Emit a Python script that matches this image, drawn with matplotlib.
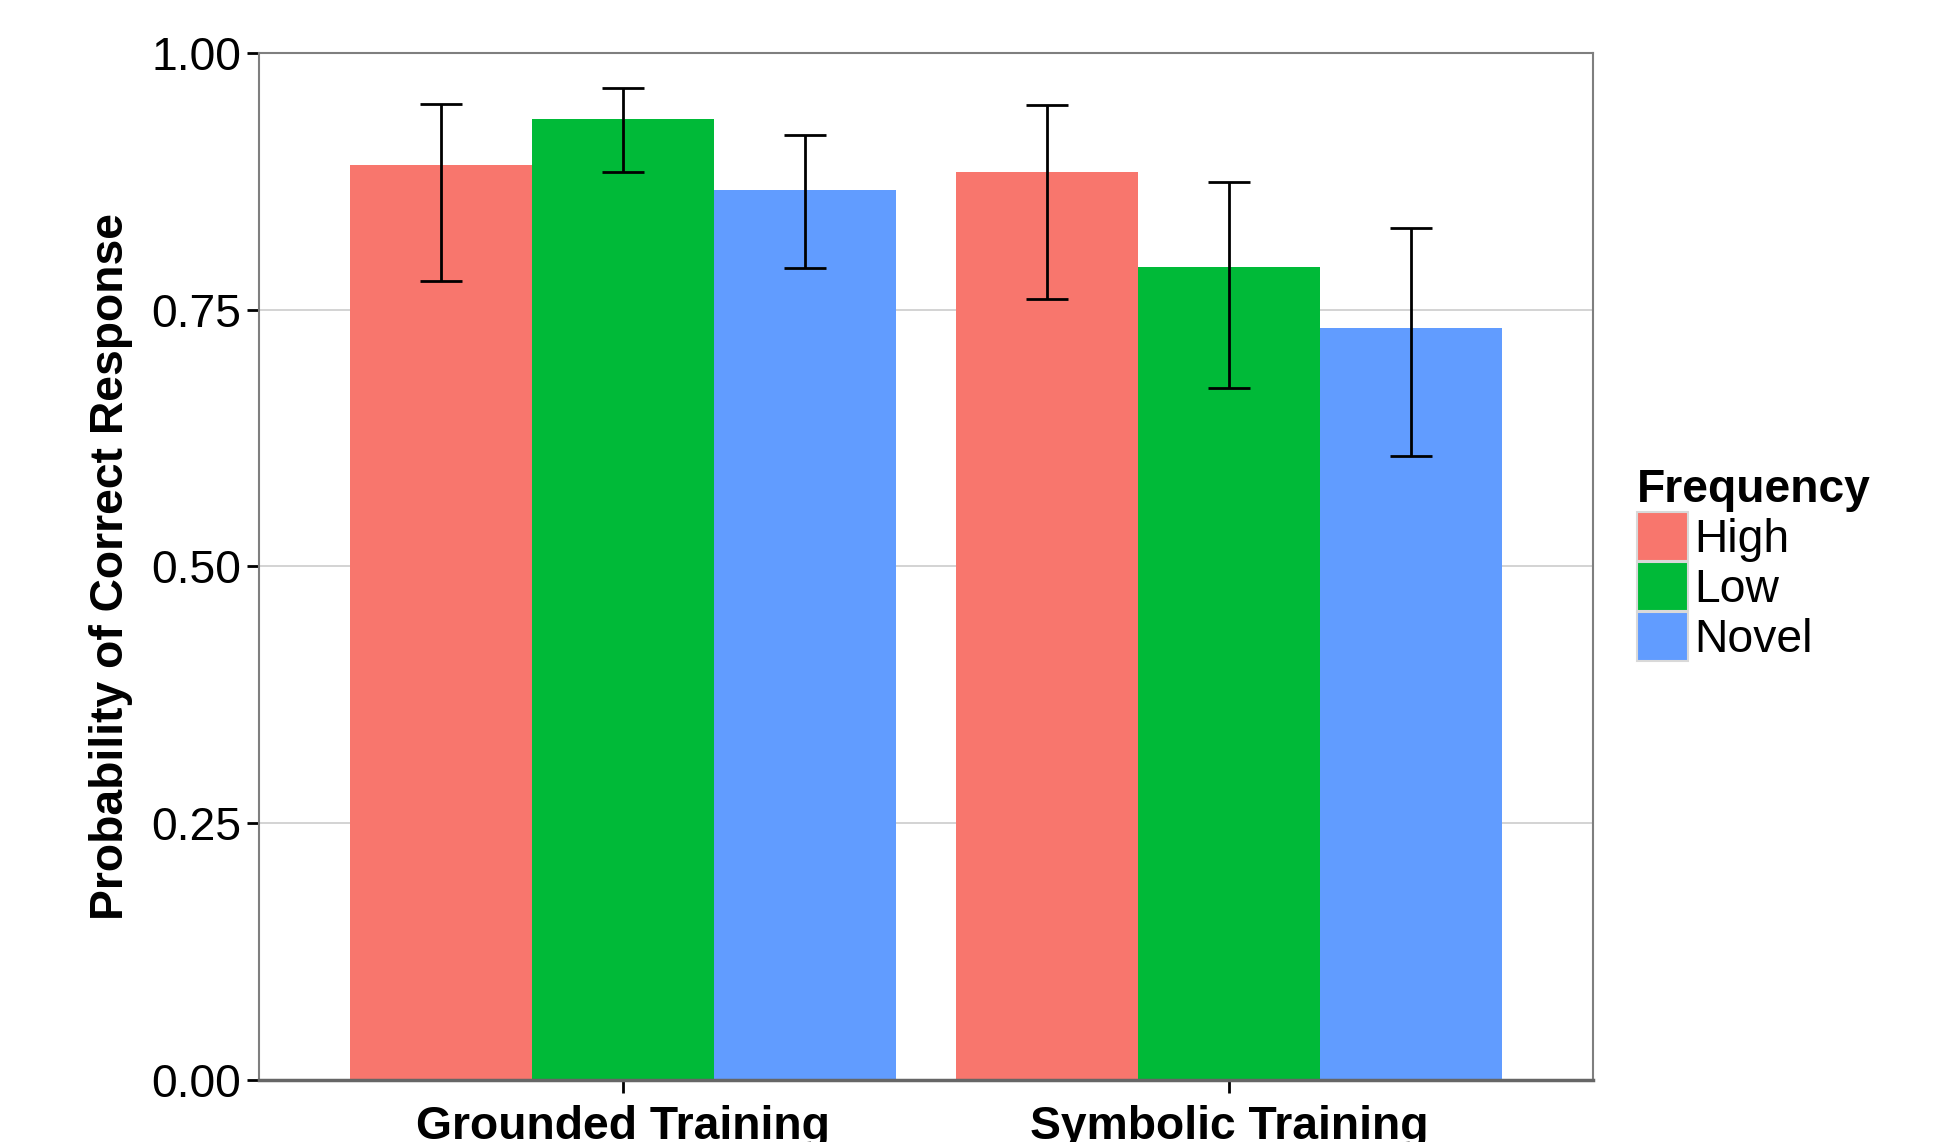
import numpy as np
import matplotlib
matplotlib.use("Agg")
import matplotlib.pyplot as plt
from matplotlib.patches import Patch

plt.rcParams["font.family"] = ["Liberation Sans", "DejaVu Sans"]

# Mean accuracy with confidence limits per training condition and frequency
conditions = ["Grounded Training", "Symbolic Training"]
frequencies = ["High", "Low", "Novel"]
colors = ["#F8766D", "#00BA38", "#619CFF"]

mean_high = [0.891, 0.884]
mean_low = [0.936, 0.792]
mean_novel = [0.867, 0.732]

lower_high = [0.778, 0.760]
lower_low = [0.884, 0.674]
lower_novel = [0.791, 0.608]

upper_high = [0.950, 0.949]
upper_low = [0.966, 0.874]
upper_novel = [0.920, 0.830]

means = [mean_high, mean_low, mean_novel]
lowers = [lower_high, lower_low, lower_novel]
uppers = [upper_high, upper_low, upper_novel]

FS = 33.3

fig = plt.figure(figsize=(19.44, 11.42), dpi=100)
ax = fig.add_axes([0.1333, 0.0543, 0.6861, 0.8993])

x = np.arange(1, len(conditions) + 1)
width = 0.3
for i, freq in enumerate(frequencies):
    pos = x + (i - 1) * width
    m = np.array(means[i])
    lo = np.array(lowers[i])
    hi = np.array(uppers[i])
    ax.bar(pos, m, width=width, color=colors[i], label=freq, zorder=2)
    ax.errorbar(pos, m, yerr=[m - lo, hi - m], fmt="none", ecolor="black",
                elinewidth=2.0, capsize=15, capthick=2.0, zorder=3)

ax.set_xlim(0.4, 2.6)
ax.set_ylim(0, 1)
ax.set_xticks(x)
ax.set_xticklabels(conditions, fontsize=FS, fontweight="bold")
ax.set_yticks([0, 0.25, 0.5, 0.75, 1.0])
ax.set_yticklabels(["0.00", "0.25", "0.50", "0.75", "1.00"], fontsize=FS)
ax.tick_params(axis="both", length=9, width=2, color="black", pad=4)
ax.tick_params(axis="x", pad=9)
ax.set_ylabel("Probability of Correct Response", fontsize=FS,
              fontweight="bold", labelpad=13)

ax.yaxis.grid(True, color="#cccccc", linewidth=1.2, zorder=0)
ax.set_axisbelow(True)
for side in ["left", "right", "top"]:
    ax.spines[side].set_color("#7f7f7f")
    ax.spines[side].set_linewidth(1.5)
ax.spines["bottom"].set_color("#666666")
ax.spines["bottom"].set_linewidth(2.5)

handles = [Patch(facecolor=c, edgecolor="#d9d9d9", linewidth=1.5) for c in colors]
leg = fig.legend(handles, frequencies, title="Frequency", loc="upper left",
                 bbox_to_anchor=(0.842, 0.590), frameon=False, fontsize=FS,
                 title_fontproperties={"size": FS, "weight": "bold"},
                 handlelength=1.1, handleheight=1.25, handletextpad=0.15,
                 labelspacing=0.0, borderpad=0, borderaxespad=0)
leg._legend_box.align = "left"

fig.savefig("out.png", dpi=100)
